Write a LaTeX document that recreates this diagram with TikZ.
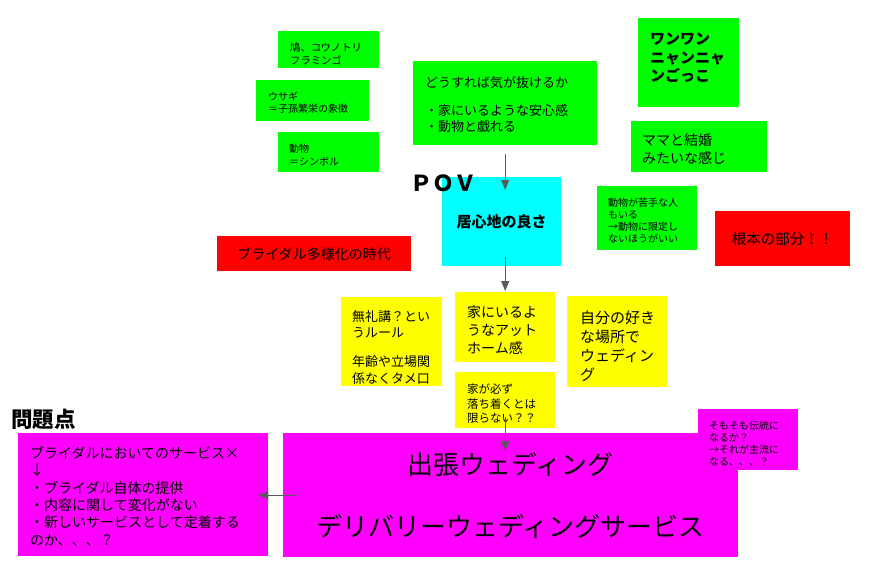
\documentclass[tikz,border=0pt]{standalone}
\usepackage{fontspec}
\setmainfont{Noto Sans CJK JP}
\usetikzlibrary{arrows.meta}

\definecolor{ngreen}{HTML}{00FF00}
\definecolor{ncyan}{HTML}{00FFFF}
\definecolor{nred}{HTML}{FF0000}
\definecolor{nyellow}{HTML}{FFFF00}
\definecolor{nmagenta}{HTML}{FF00FF}
\definecolor{arrowgray}{HTML}{5A5A5A}

\newcommand\fsz[2]{\fontsize{#1pt}{#2pt}\selectfont}

\begin{document}
\begin{tikzpicture}[x=1pt,y=-1pt,
  box/.style={draw=none, inner sep=0pt, anchor=north west},
  txt/.style={anchor=north west, inner sep=0pt, align=left, text=black},
  conn/.style={draw=arrowgray, line width=1.2pt, -{Triangle[length=10pt,width=8pt]}}
]
\useasboundingbox (0,0) rectangle (875,568);

% --- green notes, top ---
\node[box, fill=ngreen, minimum width=101pt, minimum height=37pt] (kounotori) at (278,31) {};
\node[txt, font=\fsz{10.3}{12.5}] (kounotoriT) at (290,43) {鳩、コウノトリ\\フラミンゴ};

\node[box, fill=ngreen, minimum width=113pt, minimum height=41pt] (usagi) at (256,80) {};
\node[txt, font=\fsz{10}{12}] (usagiT) at (268,92) {ウサギ\\＝子孫繁栄の象徴};

\node[box, fill=ngreen, minimum width=101pt, minimum height=40pt] (doubutsu) at (278,132) {};
\node[txt, font=\fsz{10}{13}] (doubutsuT) at (289,144) {動物\\＝シンボル};

\node[box, fill=ngreen, minimum width=184pt, minimum height=84pt] (kigaNuke) at (413,61) {};
\node[txt, font=\fsz{13}{16}] (kigaNukeT) at (425,76) {どうすれば気が抜けるか\\[12pt]・家にいるような安心感\\・動物と戯れる};

\node[box, fill=ngreen, minimum width=101pt, minimum height=89pt] (wanwan) at (638,18) {};
\node[txt, font=\bfseries\fsz{15}{18.5}] (wanwanT) at (650,33) {ワンワン\\ニャンニャ\\ンごっこ};

\node[box, fill=ngreen, minimum width=136pt, minimum height=51pt] (mama) at (631,121) {};
\node[txt, font=\fsz{14}{18}] (mamaT) at (642,134) {ママと結婚\\みたいな感じ};

\node[box, fill=ngreen, minimum width=100pt, minimum height=64pt] (nigate) at (597,186) {};
\node[txt, font=\fsz{10}{12}] (nigateT) at (608,198) {動物が苦手な人\\もいる\\→動物に限定し\\ないほうがいい};

% --- red notes ---
\node[box, fill=nred, minimum width=135pt, minimum height=55pt, font=\fsz{14.5}{14.5}] (konpon) at (715,211) {根本の部分！！};
\node[box, fill=nred, minimum width=194pt, minimum height=35pt, font=\fsz{14}{14}] (tayouka) at (217,236) {ブライダル多様化の時代};

% --- point of view ---
\node[box, fill=ncyan, minimum width=119pt, minimum height=89pt, font=\bfseries\fsz{15}{15}] (igokochi) at (442,177) {居心地の良さ};
\node[txt, font=\bfseries\fsz{22}{22}] (pov) at (410,175) {ＰＯＶ};

% --- yellow notes ---
\node[box, fill=nyellow, minimum width=101pt, minimum height=89pt] (bureikou) at (341,297) {};
\node[txt, font=\fsz{13}{16.5}] (bureikouT) at (352,310) {無礼講？とい\\うルール\\[12.5pt]年齢や立場関\\係なくタメ口};

\node[box, fill=nyellow, minimum width=100pt, minimum height=70pt] (athome) at (455,292) {};
\node[txt, font=\fsz{14}{18}] (athomeT) at (467,306) {家にいるよ\\うなアット\\ホーム感};

\node[box, fill=nyellow, minimum width=100pt, minimum height=56pt] (ochitsuku) at (455,372) {};
\node[txt, font=\fsz{11.5}{14.5}] (ochitsukuT) at (467,384) {家が必ず\\落ち着くとは\\限らない？？};

\node[box, fill=nyellow, minimum width=100pt, minimum height=91pt] (sukina) at (567,296) {};
\node[txt, font=\fsz{15}{19}] (sukinaT) at (580,311) {自分の好き\\な場所で\\ウェディン\\グ};

% --- magenta notes ---
\node[txt, font=\bfseries\fsz{21.5}{21.5}] (mondai) at (11,409) {問題点};

\node[box, fill=nmagenta, minimum width=250pt, minimum height=123pt] (problem) at (18,433) {};
\node[txt, font=\fsz{14}{17.4}] (problemT) at (30,446) {ブライダルにおいてのサービス×\\↓\\・ブライダル自体の提供\\・内容に関して変化がない\\・新しいサービスとして定着する\\のか、、、？};

\node[box, fill=nmagenta, minimum width=455pt, minimum height=124pt, align=center, font=\fsz{26}{62}] (delivery) at (283,433) {出張ウェディング\\デリバリーウェディングサービス};

\node[box, fill=nmagenta, minimum width=100pt, minimum height=61pt] (dentou) at (698,409) {};
\node[txt, font=\fsz{10}{12}] (dentouT) at (709,421) {そもそも伝統に\\なるか？\\→それが主流に\\なる、、、？};

% --- connectors ---
\draw[conn, shorten <=9pt, shorten >=-13pt] (kigaNuke.south) -- (kigaNuke.south |- igokochi.north);
\draw[conn, shorten <=-9pt, shorten >=1pt] (athome.north |- igokochi.south) -- (athome.north);
\draw[conn, shorten <=-11pt, shorten >=-18pt] (ochitsuku.south) -- (ochitsuku.south |- delivery.north);
\draw[conn, shorten <=-14pt, shorten >=-10pt] (delivery.west) -- (delivery.west -| problem.east);
\end{tikzpicture}
\end{document}
